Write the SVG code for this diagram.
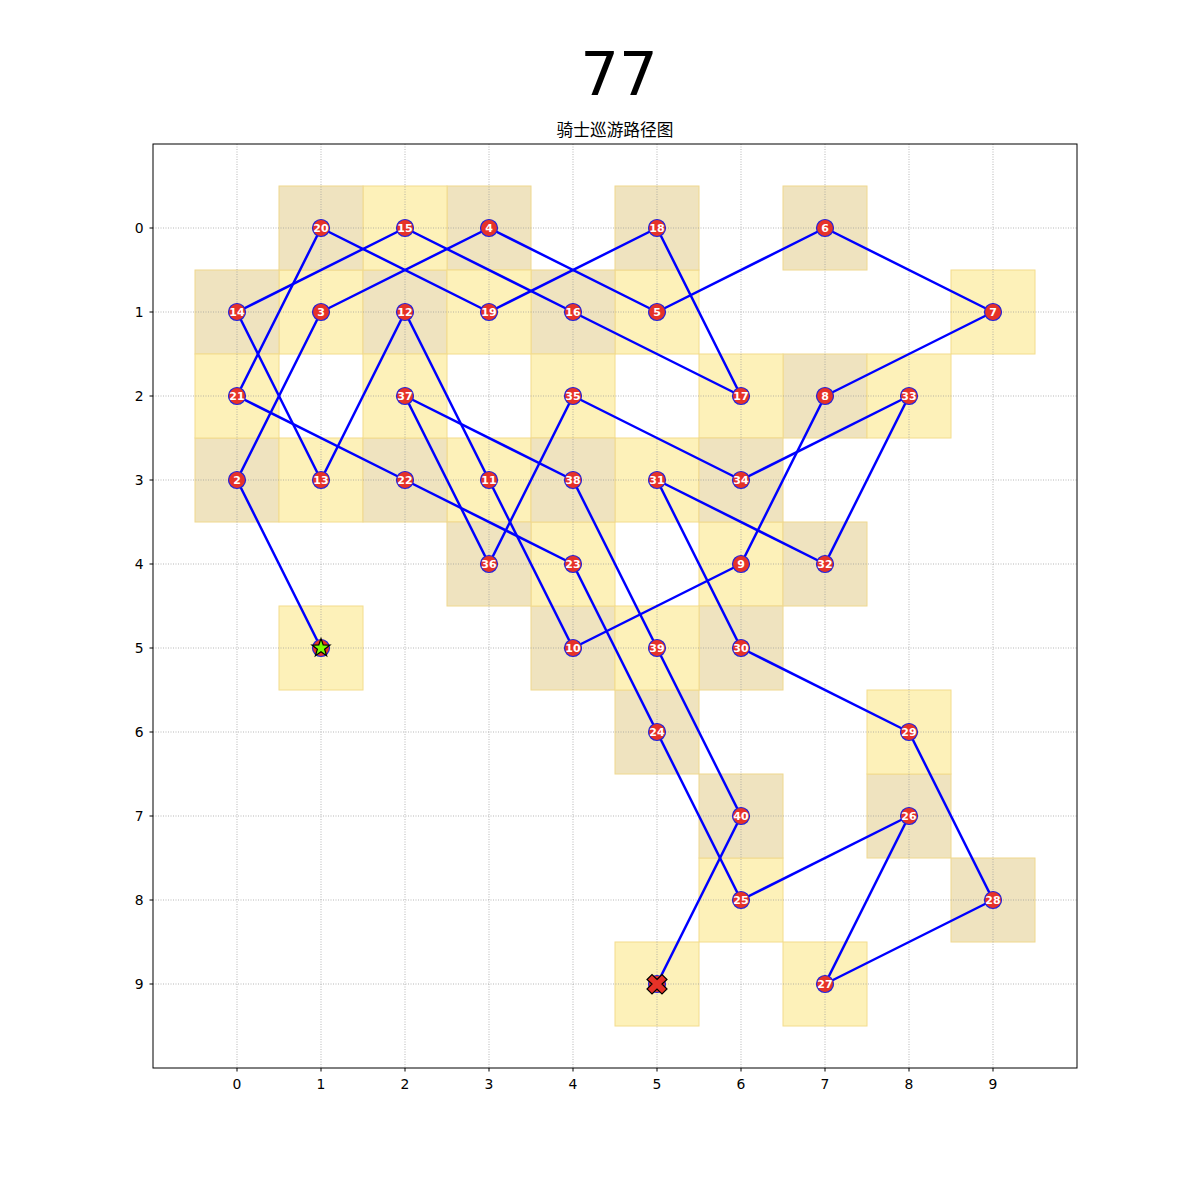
<svg xmlns="http://www.w3.org/2000/svg" width="1200" height="1200" viewBox="0 0 1200 1200">
<style>
.bg{fill:#ffffff}
.cy{fill:#fdf1b9;stroke:#f3dc8c;stroke-width:1}
.ct{fill:#efe3bf;stroke:#efd88e;stroke-width:1}
.grid{stroke:#999999;stroke-width:0.7;stroke-dasharray:1,1.5;fill:none}
.frame{fill:none;stroke:#000;stroke-width:1}
.tick{stroke:#000;stroke-width:1}
.tl{font-family:"DejaVu Sans",sans-serif;font-size:13.9px;fill:#000}
.edge{stroke:#0000ff;stroke-width:2.5;stroke-linecap:round;fill:none}
.node{fill:#e63228;stroke:#2222dd;stroke-width:1.2}
.lab{font-family:"DejaVu Sans",sans-serif;font-size:11px;font-weight:bold;fill:#fff;text-anchor:middle}
</style>
<rect class="bg" x="0" y="0" width="1200" height="1200"/>
<text x="619" y="95" font-family="DejaVu Sans,sans-serif" font-size="61" text-anchor="middle">77</text>
<text x="615" y="136" font-family="'DejaVu Sans','Noto Sans CJK SC',sans-serif" font-size="16.7" text-anchor="middle">骑士巡游路径图</text>
<g id="cells">
<rect class="cy" x="279" y="606" width="84" height="84"/>
<rect class="ct" x="195" y="438" width="84" height="84"/>
<rect class="cy" x="279" y="270" width="84" height="84"/>
<rect class="ct" x="447" y="186" width="84" height="84"/>
<rect class="cy" x="615" y="270" width="84" height="84"/>
<rect class="ct" x="783" y="186" width="84" height="84"/>
<rect class="cy" x="951" y="270" width="84" height="84"/>
<rect class="ct" x="783" y="354" width="84" height="84"/>
<rect class="cy" x="699" y="522" width="84" height="84"/>
<rect class="ct" x="531" y="606" width="84" height="84"/>
<rect class="cy" x="447" y="438" width="84" height="84"/>
<rect class="ct" x="363" y="270" width="84" height="84"/>
<rect class="cy" x="279" y="438" width="84" height="84"/>
<rect class="ct" x="195" y="270" width="84" height="84"/>
<rect class="cy" x="363" y="186" width="84" height="84"/>
<rect class="ct" x="531" y="270" width="84" height="84"/>
<rect class="cy" x="699" y="354" width="84" height="84"/>
<rect class="ct" x="615" y="186" width="84" height="84"/>
<rect class="cy" x="447" y="270" width="84" height="84"/>
<rect class="ct" x="279" y="186" width="84" height="84"/>
<rect class="cy" x="195" y="354" width="84" height="84"/>
<rect class="ct" x="363" y="438" width="84" height="84"/>
<rect class="cy" x="531" y="522" width="84" height="84"/>
<rect class="ct" x="615" y="690" width="84" height="84"/>
<rect class="cy" x="699" y="858" width="84" height="84"/>
<rect class="ct" x="867" y="774" width="84" height="84"/>
<rect class="cy" x="783" y="942" width="84" height="84"/>
<rect class="ct" x="951" y="858" width="84" height="84"/>
<rect class="cy" x="867" y="690" width="84" height="84"/>
<rect class="ct" x="699" y="606" width="84" height="84"/>
<rect class="cy" x="615" y="438" width="84" height="84"/>
<rect class="ct" x="783" y="522" width="84" height="84"/>
<rect class="cy" x="867" y="354" width="84" height="84"/>
<rect class="ct" x="699" y="438" width="84" height="84"/>
<rect class="cy" x="531" y="354" width="84" height="84"/>
<rect class="ct" x="447" y="522" width="84" height="84"/>
<rect class="cy" x="363" y="354" width="84" height="84"/>
<rect class="ct" x="531" y="438" width="84" height="84"/>
<rect class="cy" x="615" y="606" width="84" height="84"/>
<rect class="ct" x="699" y="774" width="84" height="84"/>
<rect class="cy" x="615" y="942" width="84" height="84"/>
</g>
<g id="grid" class="grid">
<path d="M237 144V1068M321 144V1068M405 144V1068M489 144V1068M573 144V1068M657 144V1068M741 144V1068M825 144V1068M909 144V1068M993 144V1068"/>
<path d="M153 228H1077M153 312H1077M153 396H1077M153 480H1077M153 564H1077M153 648H1077M153 732H1077M153 816H1077M153 900H1077M153 984H1077"/>
</g>
<g id="axes">
<rect class="frame" x="153" y="144" width="924" height="924"/>
<path class="tick" d="M237 1068v3.5M321 1068v3.5M405 1068v3.5M489 1068v3.5M573 1068v3.5M657 1068v3.5M741 1068v3.5M825 1068v3.5M909 1068v3.5M993 1068v3.5"/>
<path class="tick" d="M153 228h-3.5M153 312h-3.5M153 396h-3.5M153 480h-3.5M153 564h-3.5M153 648h-3.5M153 732h-3.5M153 816h-3.5M153 900h-3.5M153 984h-3.5"/>
<g class="tl" text-anchor="middle">
<text x="237" y="1089">0</text><text x="321" y="1089">1</text><text x="405" y="1089">2</text><text x="489" y="1089">3</text><text x="573" y="1089">4</text><text x="657" y="1089">5</text><text x="741" y="1089">6</text><text x="825" y="1089">7</text><text x="909" y="1089">8</text><text x="993" y="1089">9</text>
</g>
<g class="tl" text-anchor="end">
<text x="143.5" y="233">0</text><text x="143.5" y="317">1</text><text x="143.5" y="401">2</text><text x="143.5" y="485">3</text><text x="143.5" y="569">4</text><text x="143.5" y="653">5</text><text x="143.5" y="737">6</text><text x="143.5" y="821">7</text><text x="143.5" y="905">8</text><text x="143.5" y="989">9</text>
</g>
</g>
<g id="connectors" class="edge">
<line x1="321" y1="648" x2="237" y2="480"/>
<line x1="237" y1="480" x2="321" y2="312"/>
<line x1="321" y1="312" x2="489" y2="228"/>
<line x1="489" y1="228" x2="657" y2="312"/>
<line x1="657" y1="312" x2="825" y2="228"/>
<line x1="825" y1="228" x2="993" y2="312"/>
<line x1="993" y1="312" x2="825" y2="396"/>
<line x1="825" y1="396" x2="741" y2="564"/>
<line x1="741" y1="564" x2="573" y2="648"/>
<line x1="573" y1="648" x2="489" y2="480"/>
<line x1="489" y1="480" x2="405" y2="312"/>
<line x1="405" y1="312" x2="321" y2="480"/>
<line x1="321" y1="480" x2="237" y2="312"/>
<line x1="237" y1="312" x2="405" y2="228"/>
<line x1="405" y1="228" x2="573" y2="312"/>
<line x1="573" y1="312" x2="741" y2="396"/>
<line x1="741" y1="396" x2="657" y2="228"/>
<line x1="657" y1="228" x2="489" y2="312"/>
<line x1="489" y1="312" x2="321" y2="228"/>
<line x1="321" y1="228" x2="237" y2="396"/>
<line x1="237" y1="396" x2="405" y2="480"/>
<line x1="405" y1="480" x2="573" y2="564"/>
<line x1="573" y1="564" x2="657" y2="732"/>
<line x1="657" y1="732" x2="741" y2="900"/>
<line x1="741" y1="900" x2="909" y2="816"/>
<line x1="909" y1="816" x2="825" y2="984"/>
<line x1="825" y1="984" x2="993" y2="900"/>
<line x1="993" y1="900" x2="909" y2="732"/>
<line x1="909" y1="732" x2="741" y2="648"/>
<line x1="741" y1="648" x2="657" y2="480"/>
<line x1="657" y1="480" x2="825" y2="564"/>
<line x1="825" y1="564" x2="909" y2="396"/>
<line x1="909" y1="396" x2="741" y2="480"/>
<line x1="741" y1="480" x2="573" y2="396"/>
<line x1="573" y1="396" x2="489" y2="564"/>
<line x1="489" y1="564" x2="405" y2="396"/>
<line x1="405" y1="396" x2="573" y2="480"/>
<line x1="573" y1="480" x2="657" y2="648"/>
<line x1="657" y1="648" x2="741" y2="816"/>
<line x1="741" y1="816" x2="657" y2="984"/>
</g>
<g id="nodes">
<g id="n1"><circle class="node" cx="321" cy="648" r="8.5"/><polygon points="321,638.5 323.2,644.9 330,645.1 324.6,649.2 326.6,655.7 321,651.8 315.4,655.7 317.4,649.2 312,645.1 318.8,644.9" fill="#7cfc00" stroke="#000" stroke-width="1.2" stroke-linejoin="miter"/></g>
<g id="n2"><circle class="node" cx="237" cy="480" r="8.5"/><text class="lab" x="237" y="484">2</text></g>
<g id="n3"><circle class="node" cx="321" cy="312" r="8.5"/><text class="lab" x="321" y="316">3</text></g>
<g id="n4"><circle class="node" cx="489" cy="228" r="8.5"/><text class="lab" x="489" y="232">4</text></g>
<g id="n5"><circle class="node" cx="657" cy="312" r="8.5"/><text class="lab" x="657" y="316">5</text></g>
<g id="n6"><circle class="node" cx="825" cy="228" r="8.5"/><text class="lab" x="825" y="232">6</text></g>
<g id="n7"><circle class="node" cx="993" cy="312" r="8.5"/><text class="lab" x="993" y="316">7</text></g>
<g id="n8"><circle class="node" cx="825" cy="396" r="8.5"/><text class="lab" x="825" y="400">8</text></g>
<g id="n9"><circle class="node" cx="741" cy="564" r="8.5"/><text class="lab" x="741" y="568">9</text></g>
<g id="n10"><circle class="node" cx="573" cy="648" r="8.5"/><text class="lab" x="573" y="652">10</text></g>
<g id="n11"><circle class="node" cx="489" cy="480" r="8.5"/><text class="lab" x="489" y="484">11</text></g>
<g id="n12"><circle class="node" cx="405" cy="312" r="8.5"/><text class="lab" x="405" y="316">12</text></g>
<g id="n13"><circle class="node" cx="321" cy="480" r="8.5"/><text class="lab" x="321" y="484">13</text></g>
<g id="n14"><circle class="node" cx="237" cy="312" r="8.5"/><text class="lab" x="237" y="316">14</text></g>
<g id="n15"><circle class="node" cx="405" cy="228" r="8.5"/><text class="lab" x="405" y="232">15</text></g>
<g id="n16"><circle class="node" cx="573" cy="312" r="8.5"/><text class="lab" x="573" y="316">16</text></g>
<g id="n17"><circle class="node" cx="741" cy="396" r="8.5"/><text class="lab" x="741" y="400">17</text></g>
<g id="n18"><circle class="node" cx="657" cy="228" r="8.5"/><text class="lab" x="657" y="232">18</text></g>
<g id="n19"><circle class="node" cx="489" cy="312" r="8.5"/><text class="lab" x="489" y="316">19</text></g>
<g id="n20"><circle class="node" cx="321" cy="228" r="8.5"/><text class="lab" x="321" y="232">20</text></g>
<g id="n21"><circle class="node" cx="237" cy="396" r="8.5"/><text class="lab" x="237" y="400">21</text></g>
<g id="n22"><circle class="node" cx="405" cy="480" r="8.5"/><text class="lab" x="405" y="484">22</text></g>
<g id="n23"><circle class="node" cx="573" cy="564" r="8.5"/><text class="lab" x="573" y="568">23</text></g>
<g id="n24"><circle class="node" cx="657" cy="732" r="8.5"/><text class="lab" x="657" y="736">24</text></g>
<g id="n25"><circle class="node" cx="741" cy="900" r="8.5"/><text class="lab" x="741" y="904">25</text></g>
<g id="n26"><circle class="node" cx="909" cy="816" r="8.5"/><text class="lab" x="909" y="820">26</text></g>
<g id="n27"><circle class="node" cx="825" cy="984" r="8.5"/><text class="lab" x="825" y="988">27</text></g>
<g id="n28"><circle class="node" cx="993" cy="900" r="8.5"/><text class="lab" x="993" y="904">28</text></g>
<g id="n29"><circle class="node" cx="909" cy="732" r="8.5"/><text class="lab" x="909" y="736">29</text></g>
<g id="n30"><circle class="node" cx="741" cy="648" r="8.5"/><text class="lab" x="741" y="652">30</text></g>
<g id="n31"><circle class="node" cx="657" cy="480" r="8.5"/><text class="lab" x="657" y="484">31</text></g>
<g id="n32"><circle class="node" cx="825" cy="564" r="8.5"/><text class="lab" x="825" y="568">32</text></g>
<g id="n33"><circle class="node" cx="909" cy="396" r="8.5"/><text class="lab" x="909" y="400">33</text></g>
<g id="n34"><circle class="node" cx="741" cy="480" r="8.5"/><text class="lab" x="741" y="484">34</text></g>
<g id="n35"><circle class="node" cx="573" cy="396" r="8.5"/><text class="lab" x="573" y="400">35</text></g>
<g id="n36"><circle class="node" cx="489" cy="564" r="8.5"/><text class="lab" x="489" y="568">36</text></g>
<g id="n37"><circle class="node" cx="405" cy="396" r="8.5"/><text class="lab" x="405" y="400">37</text></g>
<g id="n38"><circle class="node" cx="573" cy="480" r="8.5"/><text class="lab" x="573" y="484">38</text></g>
<g id="n39"><circle class="node" cx="657" cy="648" r="8.5"/><text class="lab" x="657" y="652">39</text></g>
<g id="n40"><circle class="node" cx="741" cy="816" r="8.5"/><text class="lab" x="741" y="820">40</text></g>
<g id="n41"><circle class="node" cx="657" cy="984" r="8.5"/><polygon points="657,979.5 662,974.5 667,979.5 662,984 667,989 662,994 657,989 652,994 647,989 652,984 647,979.5 652,974.5" fill="#e63228" stroke="#000" stroke-width="1.2"/></g>
</g>
</svg>
